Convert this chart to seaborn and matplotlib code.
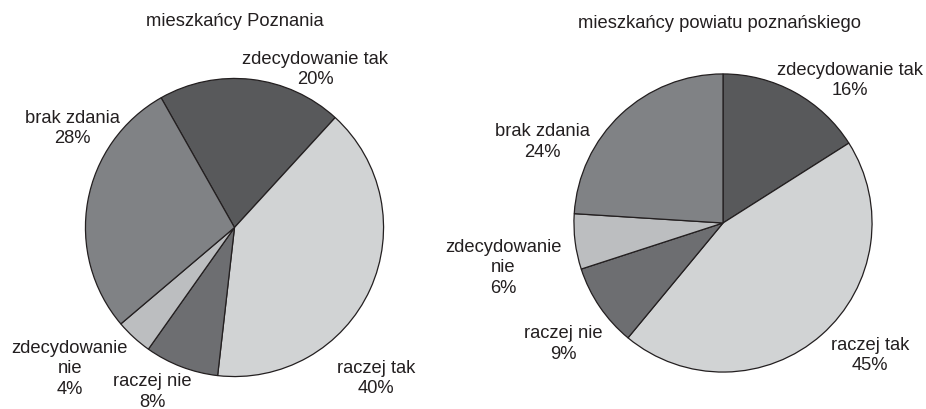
import matplotlib
matplotlib.use("Agg")
import matplotlib.pyplot as plt
import seaborn as sns

sns.set_style("white")
plt.rcParams['font.family'] = ['Liberation Sans', 'DejaVu Sans']

categories = ["zdecydowanie tak", "raczej tak", "raczej nie", "zdecydowanie nie", "brak zdania"]
poznan_values = [20, 40, 8, 4, 28]
powiat_values = [16, 45, 9, 6, 24]
titles = ["mieszkańcy Poznania", "mieszkańcy powiatu poznańskiego"]
label_lines = [["zdecydowanie tak"], ["raczej tak"], ["raczej nie"], ["zdecydowanie", "nie"], ["brak zdania"]]

colors = ["#58595b", "#d1d3d4", "#6d6e71", "#bcbec0", "#808285"]

W, H = 926, 410
fig = plt.figure(figsize=(W / 100, H / 100), dpi=100)
fig.patch.set_facecolor("white")

FS = 13.2
LINE = 20.5      # px between label lines
BASE = 6.5       # px from line centre to baseline

def px_axes(cx, cy, r):
    return fig.add_axes([(cx - r) / W, (H - cy - r) / H, 2 * r / W, 2 * r / H])

def put_line(x, yc, s):
    fig.text(x / W, 1 - (yc + BASE) / H, s, ha="center", va="baseline",
             fontsize=FS, color="#231f20")

layouts = [
    dict(cx=234.5, cy=228.5, r=149.5, start=119.5, title_xy=(235, 20),
         lab=[(315, 67.5), (376, 376.5), (152.5, 390), (70, 367), (72.5, 126.5)]),
    dict(cx=723, cy=224, r=149.5, start=90, title_xy=(719, 21),
         lab=[(850, 78.5), (870, 353.5), (563, 342), (503, 266), (542, 140)]),
]

for vals, title, lay in zip([poznan_values, powiat_values], titles, layouts):
    ax = px_axes(lay["cx"], lay["cy"], lay["r"])
    ax.pie(vals, colors=colors, startangle=lay["start"], counterclock=False,
           wedgeprops=dict(edgecolor="#231f20", linewidth=0.9))
    ax.set_xlim(-1.003, 1.003)
    ax.set_ylim(-1.003, 1.003)
    ax.set_aspect("equal")
    ax.axis("off")
    tx, ty = lay["title_xy"]
    put_line(tx, ty, title)
    for lines, v, (lx, ly) in zip(label_lines, vals, lay["lab"]):
        all_lines = lines + [f"{v}%"]
        n = len(all_lines)
        for i, s in enumerate(all_lines):
            put_line(lx, ly + (i - (n - 1) / 2) * LINE, s)

fig.savefig("out.png", dpi=100, facecolor="white")
